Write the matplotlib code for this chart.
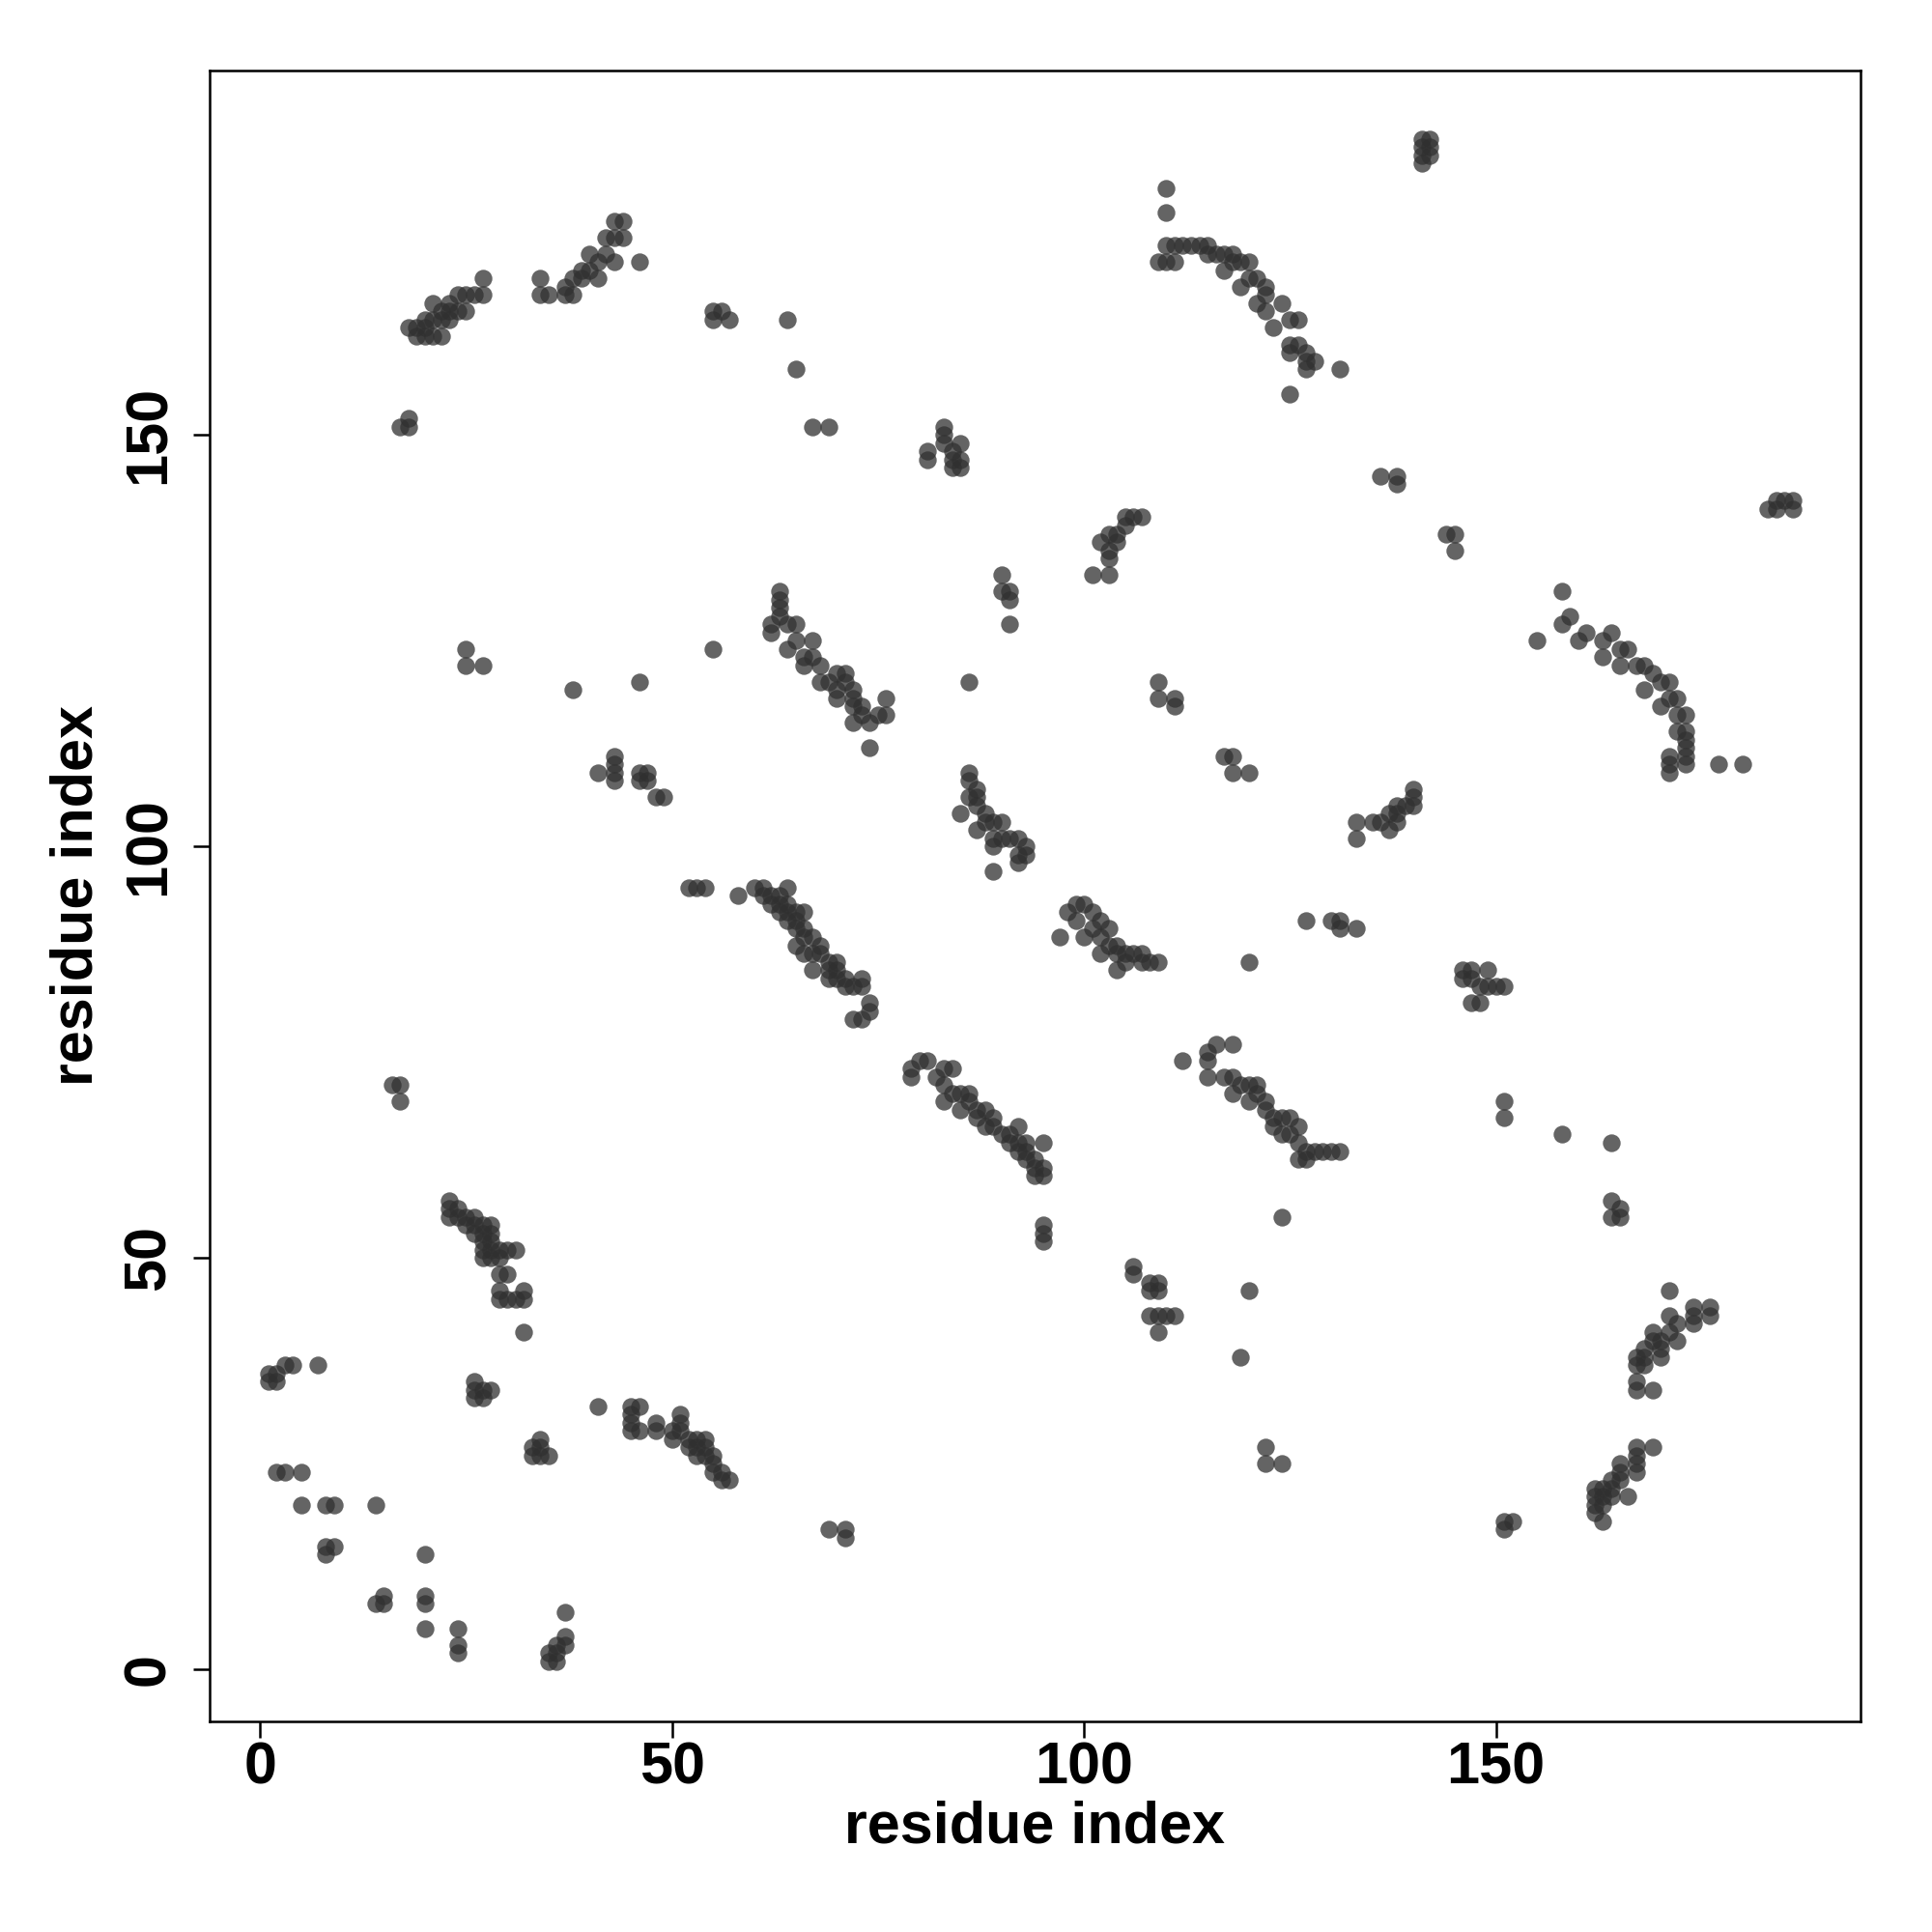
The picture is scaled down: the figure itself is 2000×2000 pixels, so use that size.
import numpy as np
import matplotlib
matplotlib.use("Agg")
import matplotlib.pyplot as plt

# contact pairs (residue i, residue j)
bottom_left = [
    (1, 35), (1, 36), (2, 35), (2, 36), (3, 37), (4, 37), (7, 37),
    (2, 24), (3, 24), (5, 24), (5, 20), (8, 20), (9, 20), (14, 20),
    (8, 15), (9, 15), (8, 14), (20, 14), (14, 8), (15, 8), (15, 9),
    (20, 9), (20, 8), (20, 5), (24, 5), (24, 3), (24, 2),
    (37, 7), (37, 4), (37, 3), (36, 3), (35, 2), (35, 1), (36, 1), (36, 2),
    (41, 32), (45, 32), (46, 32), (45, 31), (45, 30), (45, 29), (46, 29), (48, 30), (48, 29),
    (50, 29), (50, 28), (51, 31), (51, 30), (51, 29), (52, 28), (52, 27), (53, 28), (53, 27),
    (53, 26), (54, 28), (54, 27), (54, 26), (55, 26), (55, 25), (55, 24), (56, 24), (56, 23), (57, 23),
    (26, 35), (27, 34), (28, 34), (26, 33), (27, 33), (26, 34),
    (34, 28), (33, 27), (34, 26), (35, 26), (33, 26), (34, 27), (32, 41),
    (23, 57), (23, 56), (23, 55), (24, 56), (24, 55), (25, 55), (25, 54), (26, 55), (26, 54),
    (26, 53), (27, 54), (27, 53), (27, 52), (27, 51), (28, 54), (28, 53), (28, 52), (28, 51),
    (28, 50), (29, 51), (29, 50), (29, 48), (30, 51), (30, 48), (31, 51), (29, 46), (29, 45),
    (30, 45), (31, 45), (32, 46), (32, 45), (27, 50),
]

mid_left = [
    (25, 124), (25, 122), (27, 122), (38, 119), (46, 120), (55, 124),
    (41, 109), (43, 111), (43, 110), (43, 109), (43, 108), (46, 109), (47, 109), (46, 108),
    (47, 108), (48, 106), (49, 106), (52, 95), (53, 95), (54, 95),
    (16, 71), (17, 71), (17, 69),
]

top_left = [
    (17, 151), (18, 151), (18, 152),
    (18, 163), (19, 163), (19, 162), (20, 163), (20, 162), (21, 162), (22, 162), (20, 164),
    (21, 164), (21, 166), (22, 165), (22, 164), (23, 164), (23, 165), (23, 166), (24, 167),
    (24, 165), (25, 167), (25, 165), (26, 167), (27, 167), (27, 169),
    (34, 169), (34, 167), (35, 167), (37, 168), (37, 167), (38, 167), (38, 169), (39, 170),
    (39, 169), (40, 172), (40, 170), (41, 171), (41, 169), (42, 172), (42, 174), (43, 176),
    (43, 174), (44, 176), (44, 174), (43, 171), (46, 171),
    (55, 165), (56, 165), (55, 164), (57, 164),
]

top_middle = [
    (64, 164), (65, 158), (67, 151), (69, 151),
    (83, 151), (83, 150), (83, 149), (85, 149), (81, 148), (81, 147), (84, 148), (84, 146),
    (85, 147), (85, 146), (84, 147),
    (90, 133), (90, 131), (91, 131), (91, 130), (91, 127),
    (101, 133), (103, 133), (103, 135), (103, 136), (102, 137), (103, 138), (104, 138),
    (105, 139), (105, 140), (106, 140), (107, 140), (104, 137),
    (110, 180), (110, 177),
    (109, 171), (110, 171), (111, 171), (110, 173), (111, 173), (112, 173), (113, 173),
    (114, 173), (115, 173), (115, 172), (116, 172), (117, 172), (118, 172), (117, 170),
    (118, 171), (119, 171), (120, 171), (119, 168), (120, 169), (121, 169), (122, 168),
    (121, 166), (122, 167), (122, 165), (123, 163), (124, 166), (125, 164), (126, 164),
    (125, 161), (125, 160), (126, 161), (127, 160), (127, 158), (125, 155), (127, 159),
    (128, 159), (131, 158),
]

top_right = [
    (141, 186), (142, 186), (141, 185), (142, 185), (142, 184), (141, 184), (141, 183),
    (136, 145), (138, 145), (138, 144), (144, 138), (145, 138), (145, 136),
    (183, 141), (184, 142), (185, 142), (186, 142), (184, 141), (186, 141),
]

mid_right = [
    (155, 125), (158, 131), (158, 127), (159, 128), (160, 125), (161, 126), (163, 125),
    (163, 123), (164, 126), (165, 124), (166, 124), (165, 122), (167, 122), (168, 122),
    (168, 119), (169, 121), (170, 120), (171, 120), (170, 117), (171, 118), (172, 118),
    (172, 116), (173, 116), (172, 114), (173, 114), (173, 113), (173, 112), (173, 111),
    (173, 110), (171, 111), (171, 110), (171, 109), (177, 110), (180, 110),
    (133, 103), (133, 101), (135, 103), (136, 103), (137, 104), (137, 102), (138, 105),
    (138, 104), (138, 103), (139, 105), (140, 107), (140, 105), (140, 106),
    (127, 91), (130, 91), (131, 91), (131, 90), (133, 90),
    (146, 85), (147, 85), (149, 85), (146, 84), (147, 84), (149, 83), (150, 83), (151, 83),
    (147, 81), (148, 81), (148, 83),
    (151, 69), (151, 67), (158, 65), (164, 64),
]

bottom_right = [
    (164, 57), (165, 56), (164, 55), (165, 55), (171, 46),
    (174, 44), (176, 44), (174, 43), (174, 42), (176, 43),
    (171, 43), (172, 42), (171, 41), (172, 40), (169, 41), (169, 40), (170, 40), (170, 39),
    (170, 38), (168, 39), (168, 38), (167, 38), (168, 37), (167, 37), (167, 35), (167, 34),
    (169, 34),
    (167, 27), (169, 27), (167, 26), (167, 25), (167, 24), (165, 25), (165, 24), (165, 23),
    (164, 23), (166, 21), (164, 22), (163, 22), (163, 21), (162, 22), (162, 21), (162, 20),
    (162, 19), (163, 20), (163, 18), (164, 21),
    (151, 18), (152, 18), (151, 17),
]

bottom_middle = [
    (95, 54), (95, 53), (95, 52),
    (106, 49), (106, 48), (108, 47), (109, 47), (108, 46), (109, 46), (108, 43), (109, 43),
    (110, 43), (111, 43), (109, 41),
    (124, 55), (120, 46), (119, 38), (122, 27), (122, 25), (124, 25),
    (69, 17), (71, 17), (71, 16),
]

center = [
    (86, 120), (109, 120), (109, 118), (111, 118), (111, 117),
    (117, 111), (118, 111), (118, 109), (120, 109), (120, 86),
    (63, 131), (63, 130), (63, 129), (63, 128), (62, 127), (64, 127), (65, 127), (62, 126),
    (65, 125), (67, 125), (64, 124), (66, 123), (67, 123), (68, 122), (66, 122), (68, 120),
    (70, 121), (71, 121), (70, 118), (72, 119), (72, 118), (72, 117), (72, 115), (74, 115),
    (75, 116), (76, 116), (76, 118), (74, 112), (69, 120), (71, 120), (70, 119), (73, 117),
    (73, 116),
    (86, 109), (86, 108), (87, 107), (86, 106), (85, 104), (87, 106), (88, 104), (87, 102),
    (89, 103), (90, 103), (89, 101), (90, 101), (91, 101), (92, 101), (93, 100), (92, 99),
    (93, 99), (89, 100), (92, 98), (89, 97), (87, 105), (88, 103),
    (97, 89), (98, 92), (99, 93), (100, 93), (99, 91), (101, 92), (100, 89), (102, 89),
    (103, 90), (103, 88), (102, 87), (104, 88), (104, 87), (104, 85), (105, 87), (106, 87),
    (107, 87), (107, 86), (108, 86), (109, 86), (105, 86), (101, 90), (102, 91),
]

diagonals = [
    (58, 94), (60, 95), (61, 95), (61, 94), (62, 94), (62, 93), (63, 94), (63, 93), (64, 95),
    (63, 92), (64, 92), (64, 93), (65, 92), (66, 92), (64, 91), (65, 91), (65, 90), (66, 89),
    (67, 89), (68, 88), (65, 88), (66, 87), (67, 87), (68, 87), (67, 85), (69, 86), (70, 86),
    (69, 84), (70, 85), (71, 84), (71, 83), (73, 84), (73, 83), (74, 81), (74, 80), (72, 79),
    (73, 79), (72, 83), (69, 85), (70, 84), (66, 90),
    (80, 74), (81, 74), (83, 73), (84, 73), (79, 73), (79, 72), (82, 72), (83, 71), (84, 70),
    (85, 70), (86, 70), (83, 69), (85, 68), (86, 69), (88, 68), (89, 67), (87, 67), (88, 66),
    (89, 66), (92, 66), (91, 65), (91, 64), (93, 64), (95, 64), (92, 63), (94, 62), (93, 62),
    (94, 61), (95, 61), (94, 60), (95, 60), (90, 65), (87, 68), (92, 64), (93, 63),
    (112, 74), (115, 75), (116, 76), (118, 76), (115, 74), (115, 72), (117, 72), (118, 72),
    (118, 70), (120, 71), (121, 71), (120, 69), (121, 70), (122, 68), (123, 67), (124, 67),
    (125, 67), (124, 65), (126, 66), (126, 64), (126, 62), (127, 63), (128, 63), (129, 63),
    (130, 63), (131, 63), (119, 71), (122, 69), (123, 66), (125, 65), (127, 62),
]

ticks = [0, 50, 100, 150]

contacts = np.array(bottom_left + mid_left + top_left + top_middle + top_right
                    + mid_right + bottom_right + bottom_middle + center + diagonals)
res_i = contacts[:, 0]
res_j = contacts[:, 1]

plt.rcParams['font.family'] = ['Liberation Sans', 'DejaVu Sans']
plt.rcParams['font.weight'] = 'bold'

fig = plt.figure(figsize=(20, 20), dpi=100)
ax = fig.add_axes([0.1084, 0.109, 0.8546, 0.8546])

ax.scatter(res_i, res_j, s=175, c='#303030', alpha=0.75, linewidths=0)

ax.set_xlim(-6.15, 194.25)
ax.set_ylim(-6.3, 194.3)
ax.set_xticks(ticks)
ax.set_yticks(ticks)
ax.set_xticklabels([str(t) for t in ticks], fontsize=44, fontweight='bold')
ax.set_yticklabels([str(t) for t in ticks], fontsize=44, fontweight='bold',
                   rotation=90, va='center')
ax.tick_params(axis='x', length=12, width=1.8, pad=3)
ax.tick_params(axis='y', length=12, width=1.8, pad=12)
for sp in ax.spines.values():
    sp.set_linewidth(1.8)

ax.set_xlabel('residue index', fontsize=44, fontweight='bold', va='center')
ax.set_ylabel('residue index', fontsize=44, fontweight='bold', va='center')
ax.xaxis.set_label_coords(0.4997, -0.0644)
ax.yaxis.set_label_coords(-0.080, 0.5003)

fig.savefig('out.png', dpi=100, facecolor='white')
